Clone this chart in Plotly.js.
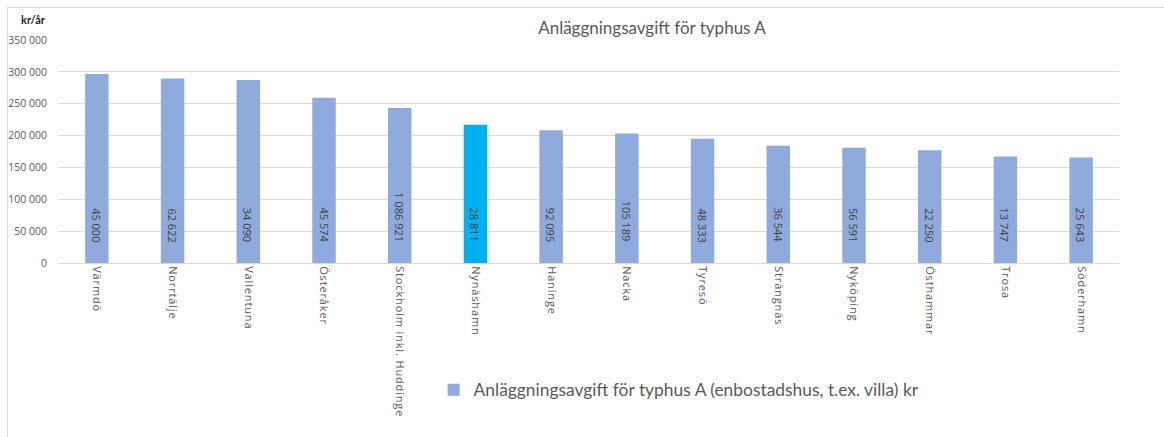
<!DOCTYPE html>
<html>
<head>
<meta charset="utf-8">
<script src="https://cdn.plot.ly/plotly-3.0.1.min.js"></script>
<style>
  html, body { margin: 0; padding: 0; background: #fff; }
  #chart { position: absolute; left: 7px; top: 7px; width: 1157px; height: 430px;
           border-top: 1px solid #d9d9d9; border-left: 1px solid #d9d9d9; box-sizing: border-box; }
  #chart .xtick text { letter-spacing: 0.85px; }
</style>
</head>
<body>
<div id="chart"></div>
<script>
const categories = ["Värmdö", "Norrtälje", "Vallentuna", "Österåker", "Stockholm inkl. Huddinge",
  "Nynäshamn", "Haninge", "Nacka", "Tyresö", "Strängnäs", "Nyköping", "Östhammar", "Trosa", "Söderhamn"];
const fees = [296600, 289700, 287100, 259300, 243100, 216900, 208500, 203200, 194900, 183900,
  180700, 177100, 167100, 165500];
const barLabels = [45000, 62622, 34090, 45574, 1086921, 28811, 92095, 105189, 48333, 36544,
  56591, 22250, 13747, 25643];
const highlight = "Nynäshamn";
const seriesName = "Anläggningsavgift för typhus A (enbostadshus, t.ex. villa) kr";
const chartTitle = "Anläggningsavgift för typhus A";
const yUnit = "kr/år";

const FONT = "Lato, 'Open Sans', sans-serif";
const FONT2 = "'Open Sans', Lato, sans-serif";
const fmt = v => String(v).replace(/\B(?=(\d{3})+(?!\d))/g, " ");
const colors = categories.map(c => c === highlight ? "#00b0f0" : "#8faadc");

const trace = {
  type: "bar",
  x: categories,
  y: fees,
  name: seriesName,
  marker: { color: colors },
  showlegend: true,
  hoverinfo: "x+y"
};

const annotations = categories.map((c, i) => ({
  x: c, y: 0, xref: "x", yref: "y",
  text: fmt(barLabels[i]),
  textangle: 90,
  showarrow: false,
  yanchor: "bottom",
  yshift: 19,
  font: { family: FONT2, size: 11, color: "#404040" }
}));
annotations.push({
  xref: "paper", yref: "paper", x: -0.024, y: 1.09,
  text: yUnit, showarrow: false, xanchor: "center", yanchor: "middle",
  font: { family: FONT, size: 11, color: "#262626", weight: "bold" }
});

const layout = {
  width: 1157, height: 430,
  margin: { l: 51, r: 46, t: 32, b: 175 },
  paper_bgcolor: "rgba(0,0,0,0)",
  plot_bgcolor: "#ffffff",
  separators: ", ",
  font: { family: FONT, color: "#595959" },
  title: {
    text: chartTitle,
    x: 0.5566, xanchor: "center", xref: "container",
    y: 0.9535, yanchor: "middle", yref: "container",
    font: { family: FONT, size: 17, color: "#595959" }
  },
  bargap: 0.69,
  xaxis: {
    type: "category",
    tickangle: 90,
    tickfont: { family: FONT2, size: 11, color: "#595959" },
    showline: true, linecolor: "#d9d9d9", linewidth: 1,
    ticks: "", showgrid: false
  },
  yaxis: {
    range: [0, 350000],
    dtick: 50000,
    tickformat: ",d",
    tickfont: { family: FONT2, size: 10.5, color: "#595959" },
    gridcolor: "#d9d9d9", gridwidth: 1,
    zeroline: false, showline: false, ticks: "",
    ticklabelstandoff: 11
  },
  legend: {
    orientation: "h",
    x: 0.585, xanchor: "center",
    y: -0.569, yanchor: "middle",
    font: { family: FONT, size: 17.4, color: "#595959" },
    itemwidth: 30
  },
  annotations: annotations
};

Plotly.newPlot("chart", [trace], layout, { displayModeBar: false, staticPlot: true });
</script>
</body>
</html>
